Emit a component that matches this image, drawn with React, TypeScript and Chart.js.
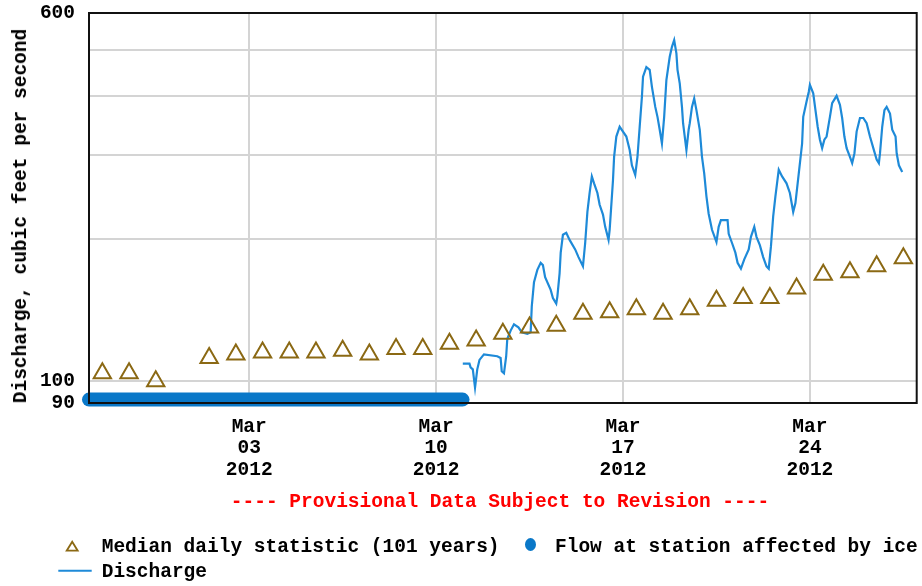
import React, { useEffect, useRef } from "react";
import { Chart, registerables } from "chart.js";

Chart.register(...registerables);

// ---- data ----
const START_UTC = Date.UTC(2012, 1, 26); // Feb 26 2012 00:00 = x origin (days)
const X_MAX_DATE = "2012-03-28";

const medianDates = [
  "2012-02-26", "2012-02-27", "2012-02-28",
  "2012-03-01", "2012-03-02", "2012-03-03", "2012-03-04", "2012-03-05",
  "2012-03-06", "2012-03-07", "2012-03-08", "2012-03-09", "2012-03-10",
  "2012-03-11", "2012-03-12", "2012-03-13", "2012-03-14", "2012-03-15",
  "2012-03-16", "2012-03-17", "2012-03-18", "2012-03-19", "2012-03-20",
  "2012-03-21", "2012-03-22", "2012-03-23", "2012-03-24", "2012-03-25",
  "2012-03-26", "2012-03-27",
];
const medianCfs = [
  104, 104, 100,
  112, 114, 115, 115, 115,
  116, 114, 117, 117, 120,
  122, 126, 130, 131, 139,
  140, 142, 139, 142, 148,
  150, 150, 157, 168, 170,
  175, 182,
];

// ice-affected period (plotted along the bottom of the graph)
const iceStart = "2012-02-26T00:00";
const iceEnd = "2012-03-10T23:45";
const iceLevelCfs = 91.5;

// discharge: hours since 2012-03-11 00:00, cfs
const dischargeOrigin = "2012-03-11T00:00";
const dischargeHours = [
  0, 6, 7, 9, 11, 13, 15, 19, 31, 34, 35, 37, 39, 40, 43, 46, 50, 53, 58, 61,
  62, 64, 67, 70, 72, 74, 79, 81, 84, 85, 87, 88, 90, 93, 96, 101, 104, 108, 110, 112,
  114, 116, 118, 121, 123, 126, 128, 131, 132, 135, 136, 138, 141, 144, 147, 150, 152, 155, 157, 159,
  161, 162, 165, 168, 170, 173, 175, 177, 179, 181, 183, 186, 188, 190, 192, 193, 195, 197, 198, 201,
  203, 204, 206, 208, 210, 213, 215, 217, 219, 221, 224, 228, 230, 232, 238, 239, 242, 245, 247, 250,
  253, 257, 259, 262, 264, 267, 270, 273, 275, 277, 279, 281, 284, 287, 291, 294, 297, 299, 302, 305,
  306, 309, 311, 312, 315, 317, 319, 321, 323, 325, 327, 330, 332, 336, 339, 341, 343, 345, 348, 350,
  352, 354, 357, 360, 363, 366, 369, 372, 374, 375, 377, 379, 381, 384, 386, 389, 390, 392, 395,
];
const dischargeCfs = [
  109, 109, 107, 106, 97, 106, 111, 114, 113, 112, 105, 104, 113, 123, 128, 132, 130, 127, 126, 127,
  144, 162, 172, 178, 176, 166, 156, 150, 146, 151, 169, 187, 204, 206, 199, 190, 183, 175, 196, 228,
  250, 271, 262, 250, 236, 225, 212, 199, 209, 266, 298, 329, 345, 337, 329, 308, 286, 273, 298, 345,
  399, 440, 461, 455, 419, 380, 362, 340, 318, 362, 433, 485, 509, 526, 493, 455, 426, 380, 351, 308,
  340, 351, 380, 396, 374, 340, 298, 275, 246, 226, 209, 197, 212, 219, 219, 205, 196, 187, 178, 173,
  181, 190, 202, 212, 202, 194, 183, 175, 173, 193, 223, 246, 280, 271, 262, 250, 228, 238, 275, 318,
  362, 390, 409, 423, 406, 374, 345, 324, 311, 324, 329, 362, 387, 401, 384, 360, 329, 311, 298, 289,
  303, 337, 360, 360, 351, 329, 311, 294, 289, 303, 345, 374, 380, 368, 340, 329, 303, 286, 277,
];

const xTickDates = ["2012-03-03", "2012-03-10", "2012-03-17", "2012-03-24"];
const xTickLabels = [
  ["Mar", "03", "2012"],
  ["Mar", "10", "2012"],
  ["Mar", "17", "2012"],
  ["Mar", "24", "2012"],
];
const yMin = 90;
const yMax = 600;
const yGridValues = [90, 100, 200, 300, 400, 500, 600];
const yLabelValues = [90, 100, 600];

const yTitle = "Discharge, cubic feet per second";
const provisionalText = "---- Provisional Data Subject to Revision ----";
const legendMedian = "Median daily statistic (101 years)";
const legendIce = "Flow at station affected by ice";
const legendDischarge = "Discharge";

// ---- helpers ----
const toDays = (s: string) => {
  const [d, t] = s.split("T");
  const [y, m, dd] = d.split("-").map(Number);
  const [hh, mm] = (t || "00:00").split(":").map(Number);
  return (Date.UTC(y, m - 1, dd, hh, mm) - START_UTC) / 86400000;
};

const FONT = "'Liberation Mono', 'DejaVu Sans Mono', monospace";
const LINE_BLUE = "#1e8ad8";
const ICE_BLUE = "#0a78c8";
const MEDIAN_COLOR = "#8b6914";

export default function App() {
  const ref = useRef<HTMLCanvasElement | null>(null);

  useEffect(() => {
    if (!ref.current) return;
    const medianData = medianDates.map((d, i) => ({ x: toDays(d) + 0.5, y: medianCfs[i] }));
    const iceData = [
      { x: toDays(iceStart), y: iceLevelCfs },
      { x: toDays(iceEnd), y: iceLevelCfs },
    ];
    const d0 = toDays(dischargeOrigin);
    const dischargeData = dischargeHours.map((h, i) => ({ x: d0 + h / 24, y: dischargeCfs[i] }));
    const xTicks = xTickDates.map(toDays);

    const framePlugin = {
      id: "frame",
      afterDatasetsDraw(chart: any) {
        const { ctx, chartArea } = chart;
        ctx.save();
        ctx.strokeStyle = "#111";
        ctx.lineWidth = 2;
        ctx.strokeRect(chartArea.left, chartArea.top, chartArea.right - chartArea.left, chartArea.bottom - chartArea.top);
        ctx.restore();
      },
    };

    const chart = new Chart(ref.current, {
      type: "line",
      data: {
        datasets: [
          {
            label: legendMedian,
            data: medianData,
            showLine: false,
            pointStyle: "triangle",
            pointRadius: 10,
            pointHoverRadius: 10,
            pointBorderWidth: 2,
            pointBorderColor: MEDIAN_COLOR,
            pointBackgroundColor: "rgba(0,0,0,0)",
            borderColor: MEDIAN_COLOR,
          },
          {
            label: legendDischarge,
            data: dischargeData,
            borderColor: LINE_BLUE,
            borderWidth: 2.2,
            pointRadius: 0,
            tension: 0,
          },
          {
            label: legendIce,
            data: iceData,
            borderColor: ICE_BLUE,
            borderWidth: 14,
            borderCapStyle: "round",
            pointRadius: 0,
            clip: false as any,
          },
        ] as any,
      },
      options: {
        animation: false,
        responsive: false,
        maintainAspectRatio: false,
        events: [],
        layout: { autoPadding: false, padding: { left: 0, top: 13, right: 5.3, bottom: 103 } },
        plugins: { legend: { display: false }, tooltip: { enabled: false } },
        scales: {
          x: {
            type: "linear",
            min: 0,
            max: toDays(X_MAX_DATE),
            border: { display: false },
            grid: { color: "#d4d4d4", lineWidth: 2, drawTicks: false },
            afterBuildTicks: (scale: any) => {
              scale.ticks = xTicks.map((v) => ({ value: v }));
            },
            afterFit: (scale: any) => {
              scale.height = 80;
              scale.paddingLeft = 0;
              scale.paddingRight = 0;
            },
            ticks: {
              autoSkip: false,
              maxRotation: 0,
              padding: 13.5,
              color: "#000",
              font: { family: FONT, size: 19.5, weight: "bold", lineHeight: 1.09 },
              callback: (_v: any, i: number) => xTickLabels[i],
            },
          },
          y: {
            type: "logarithmic",
            min: yMin,
            max: yMax,
            border: { display: false },
            grid: {
              drawTicks: false,
              lineWidth: 2,
              color: (ctx: any) =>
                ctx.tick && (ctx.tick.value === yMin || ctx.tick.value === yMax) ? "rgba(0,0,0,0)" : "#d4d4d4",
            },
            afterBuildTicks: (scale: any) => {
              scale.ticks = yGridValues.map((v) => ({ value: v }));
            },
            afterFit: (scale: any) => {
              scale.width = 89;
              scale.paddingTop = 0;
              scale.paddingBottom = 0;
            },
            ticks: {
              autoSkip: false,
              padding: 14,
              color: "#000",
              font: { family: FONT, size: 19.5, weight: "bold" },
              callback: (v: any) => (yLabelValues.includes(Number(v)) ? String(v) : ""),
            },
          },
        },
      } as any,
      plugins: [framePlugin],
    });
    return () => chart.destroy();
  }, []);

  const textStyle: React.CSSProperties = {
    position: "absolute",
    fontFamily: FONT,
    fontWeight: "bold",
    fontSize: "19.5px",
    lineHeight: "20px",
    whiteSpace: "nowrap",
    color: "#000",
  };

  return (
    <div style={{ position: "absolute", left: 0, top: 0, width: 922, height: 586, background: "#fff" }}>
      <canvas ref={ref} width={922} height={586} style={{ position: "absolute", left: 0, top: 0, width: 922, height: 586 }} />
      <div
        style={{
          ...textStyle,
          left: 20.5,
          top: 215.5,
          transform: "translate(-50%, -50%) rotate(-90deg)",
        }}
      >
        {yTitle}
      </div>
      <div style={{ ...textStyle, color: "#ff0000", left: 500, top: 492, transform: "translateX(-50%)" }}>
        {provisionalText}
      </div>
      <svg style={{ position: "absolute", left: 0, top: 530, overflow: "visible" }} width={922} height={56}>
        <polygon points="72.2,11.7 66.7,20.7 77.7,20.7" fill="none" stroke={MEDIAN_COLOR} strokeWidth={1.8} />
        <ellipse cx={530.5} cy={14.5} rx={5.5} ry={6.5} fill={ICE_BLUE} />
        <line x1={58.3} y1={40.7} x2={91.7} y2={40.7} stroke={LINE_BLUE} strokeWidth={2} />
      </svg>
      <div style={{ ...textStyle, left: 101.7, top: 536.5 }}>{legendMedian}</div>
      <div style={{ ...textStyle, left: 555, top: 536.5 }}>{legendIce}</div>
      <div style={{ ...textStyle, left: 101.7, top: 561.5 }}>{legendDischarge}</div>
    </div>
  );
}
